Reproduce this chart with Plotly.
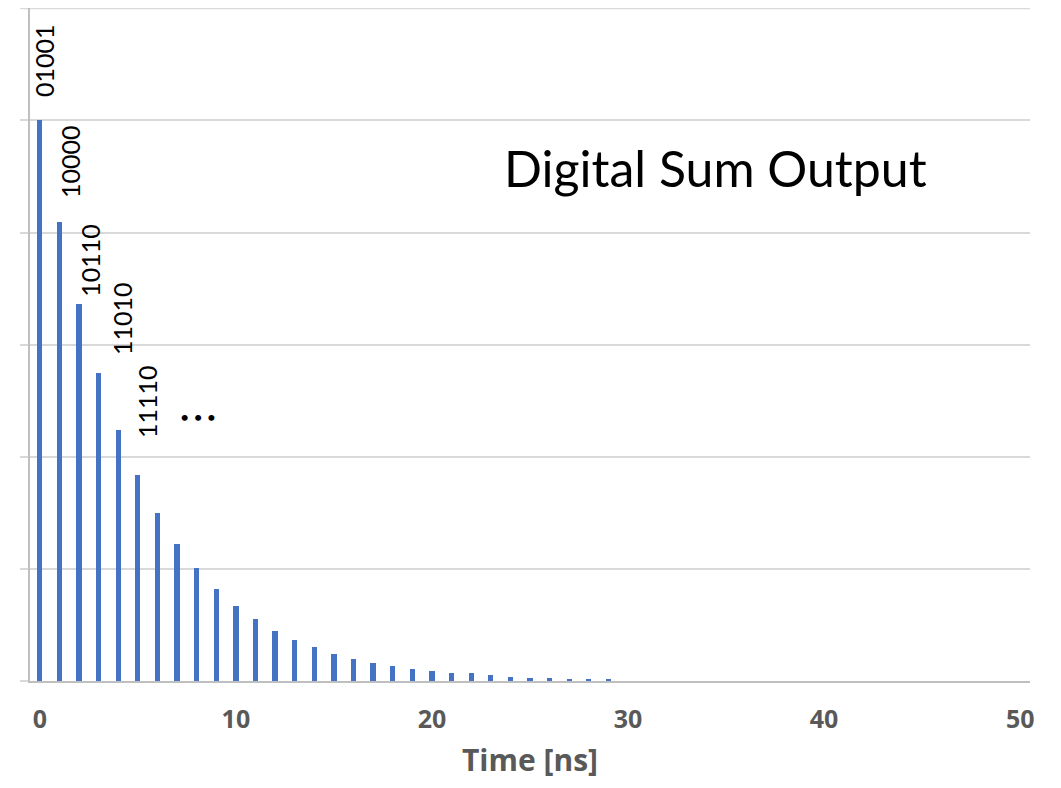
import plotly.graph_objects as go

# Data
time_ns = list(range(30))
amplitude = [5.00, 4.09, 3.36, 2.75, 2.24, 1.84, 1.50, 1.225, 1.01, 0.82,
             0.67, 0.55, 0.45, 0.37, 0.30, 0.245, 0.20, 0.165, 0.13, 0.11,
             0.085, 0.075, 0.067, 0.05, 0.04, 0.027, 0.027, 0.018, 0.013, 0.013]

# Bit-pattern labels and where they sit (data coords)
code_labels = ["01001", "10000", "10110", "11010", "11110"]
code_x = [0.21, 1.54, 2.56, 4.19, 5.47]
code_y = [5.195, 4.285, 3.405, 2.895, 2.145]

x_ticks = [0, 10, 20, 30, 40, 50]
y_grid = [0, 1, 2, 3, 4, 5, 6]
y_top = 6
x_title = "Time [ns]"

fig = go.Figure()
fig.add_trace(go.Bar(
    x=time_ns, y=amplitude, width=0.27,
    marker=dict(color="#4472C4", line=dict(width=0)),
    showlegend=False,
))

annotations = []
for lab, ax_, ay_ in zip(code_labels, code_x, code_y):
    annotations.append(dict(
        x=ax_, y=ay_, xref="x", yref="y", text=lab, textangle=-90,
        showarrow=False, xanchor="center", yanchor="bottom",
        font=dict(family="Lato, sans-serif", size=25, color="#000000"),
    ))
annotations.append(dict(
    x=8.07, y=2.36, xref="x", yref="y", text="• • •",
    showarrow=False, xanchor="center", yanchor="middle",
    font=dict(family="Lato, sans-serif", size=16, color="#000000"),
))
annotations.append(dict(
    x=0.685, y=0.7617, xref="paper", yref="paper", text="Digital Sum Output",
    showarrow=False, xanchor="center", yanchor="middle",
    font=dict(family="Lato, sans-serif", size=50, color="#000000"),
))
# x-axis title as an annotation so it can sit lower than the axis-title clamp allows
annotations.append(dict(
    x=0.5, y=-0.1507, xref="paper", yref="paper", text=x_title,
    showarrow=False, xanchor="center", yanchor="bottom",
    font=dict(family="Open Sans, sans-serif", size=30, color="#595959", weight="bold"),
))

# top gridline (sits on the plot edge, so draw it explicitly)
shapes = [dict(type="line", xref="paper", yref="y", x0=-0.008, x1=1,
               y0=y_top, y1=y_top, line=dict(color="#d9d9d9", width=2), layer="below")]

fig.update_layout(
    width=1045, height=772,
    margin=dict(l=22, r=23, t=0, b=98.5, autoexpand=False),
    paper_bgcolor="white", plot_bgcolor="white",
    bargap=0,
    annotations=annotations,
    shapes=shapes,
    xaxis=dict(
        range=[-0.5, 50.5], tickvals=x_ticks, ticks="",
        showgrid=False, zeroline=False,
        showline=True, linecolor="#bfbfbf", linewidth=2,
        tickfont=dict(family="Open Sans, sans-serif", size=25, color="#595959", weight="bold"),
        ticklabelstandoff=15,
        automargin=False,
    ),
    yaxis=dict(
        range=[0, 6.003], tickvals=y_grid, showticklabels=False,
        ticks="outside", ticklen=8, tickcolor="#d9d9d9", tickwidth=2,
        showgrid=True, gridcolor="#d9d9d9", gridwidth=2,
        zeroline=False,
        showline=True, linecolor="#bfbfbf", linewidth=2,
        automargin=False,
    ),
)

fig.write_html("out.html")
